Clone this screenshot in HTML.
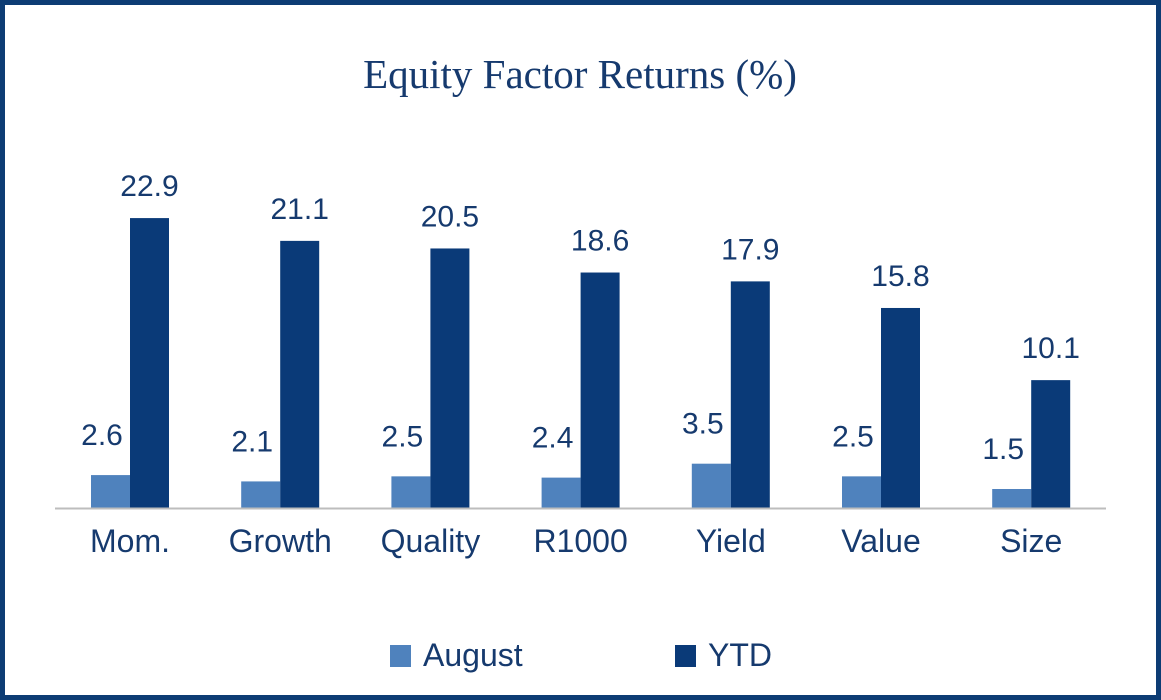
<!DOCTYPE html>
<html><head><meta charset="utf-8"><style>
html,body{margin:0;padding:0;background:#fff}
#wrap{position:relative;width:1161px;height:700px;box-sizing:border-box;border:5px solid #0d3c74;background:#fff;overflow:hidden}
svg{position:absolute;left:-5px;top:-5px}
</style></head><body>
<div id="wrap">
<svg id="chart" width="1161" height="700"></svg>
</div>
<script>
const categories = ["Mom.","Growth","Quality","R1000","Yield","Value","Size"];
const august = [2.6,2.1,2.5,2.4,3.5,2.5,1.5];
const ytd = [22.9,21.1,20.5,18.6,17.9,15.8,10.1];
const seriesNames = ["August","YTD"];

const NS="http://www.w3.org/2000/svg";
const svg=document.getElementById('chart');
const baseY=508, pxPerUnit=12.66, firstCenter=130, step=150.2, barW=39;
const y=v=>baseY-v*pxPerUnit;
const xc=i=>firstCenter+i*step;
const C_AUG="#4f82bd", C_YTD="#0a3a78", C_TXT="#163a6e";
function mk(tag,attrs,text){const e=document.createElementNS(NS,tag);for(const k in attrs)e.setAttribute(k,attrs[k]);if(text!=null)e.textContent=text;svg.appendChild(e);return e;}

const t=mk('text',{x:580,y:88,'text-anchor':'middle','font-family':'"Liberation Serif",serif','font-size':41,fill:C_TXT},"Equity Factor Returns (%)");



categories.forEach((c,i)=>{
  const cx=xc(i);
  const a=mk('rect',{x:cx-barW,y:y(august[i]),width:barW,height:baseY-y(august[i]),fill:C_AUG});
  
  
  const b=mk('rect',{x:cx,y:y(ytd[i]),width:barW,height:baseY-y(ytd[i]),fill:C_YTD});
  
  
  const la=mk('text',{x:cx-28,y:y(august[i])-30,'text-anchor':'middle','font-family':'"Liberation Sans",sans-serif','font-size':30,fill:C_TXT},august[i].toFixed(1));
  
  
  const lb=mk('text',{x:cx+barW/2,y:y(ytd[i])-22,'text-anchor':'middle','font-family':'"Liberation Sans",sans-serif','font-size':30,fill:C_TXT},ytd[i].toFixed(1));
  
  
  const cl=mk('text',{x:cx,y:552,'text-anchor':'middle','font-family':'"Liberation Sans",sans-serif','font-size':32,fill:C_TXT},c);
  
  
});
const ax=mk('line',{x1:55,y1:baseY+0.5,x2:1106,y2:baseY+0.5,stroke:'#bdbdbd','stroke-width':2});



const legend=[[390,C_AUG,seriesNames[0]],[675,C_YTD,seriesNames[1]]];
legend.forEach(([lx,col,name])=>{
  const s=mk('rect',{x:lx,y:645,width:21,height:22,fill:col});
  
  
  const tx=mk('text',{x:lx+33,y:666,'font-family':'"Liberation Sans",sans-serif','font-size':32,fill:C_TXT},name);
  
  
});
</script>
</body></html>
